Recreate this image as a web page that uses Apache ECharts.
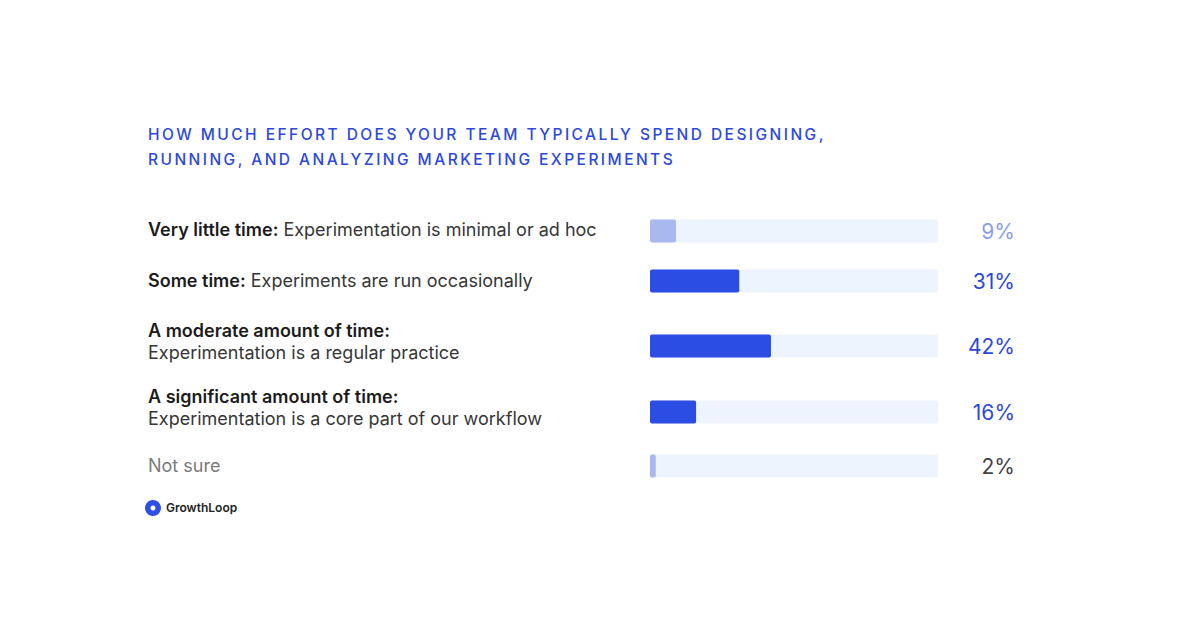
<!DOCTYPE html>
<html>
<head>
<meta charset="utf-8">
<script src="https://cdn.jsdelivr.net/npm/echarts@6/dist/echarts.min.js"></script>
<style>
  html, body { margin: 0; padding: 0; background: #ffffff; }
  #chart { width: 1200px; height: 630px; }
  #chart svg text[fill="#2c48df"] { letter-spacing: 2.45px; }
</style>
</head>
<body>
<div id="chart"></div>
<script>
// ---- data ----
const titleText = 'HOW MUCH EFFORT DOES YOUR TEAM TYPICALLY SPEND DESIGNING,\nRUNNING, AND ANALYZING MARKETING EXPERIMENTS';
const categories = [
  'Very little time: Experimentation is minimal or ad hoc',
  'Some time: Experiments are run occasionally',
  'A moderate amount of time:\nExperimentation is a regular practice',
  'A significant amount of time:\nExperimentation is a core part of our workflow',
  'Not sure'
];
const values = [9, 31, 42, 16, 2];
const valueLabels = ['9%', '31%', '42%', '16%', '2%'];
const brandName = 'GrowthLoop';

// ---- layout / style ----
const rowCenters = [231, 281, 346, 412, 466];
const barH = 23;
const barColors = ['#a9b8ef', '#2b4de3', '#2b4de3', '#2b4de3', '#a9b8ef'];
const pctColors = ['#8b9de6', '#2d47dc', '#2d47dc', '#2d47dc', '#444444'];
const labelLift = [4, 2, 10, 10, 2];

function fmtLabel(v) {
  const i = v.indexOf(':');
  if (i < 0) return '{n|' + v + '}';
  const head = v.slice(0, i + 1);
  let rest = v.slice(i + 1);
  if (rest.charAt(0) === '\n') return '{b|' + head + '}\n{r|' + rest.slice(1) + '}';
  return '{b|' + head + '}{r|' + rest + '}';
}

const grids = [], xAxes = [], yAxes = [], series = [];
categories.forEach((c, i) => {
  grids.push({ left: 650, width: 288, top: rowCenters[i] - barH / 2, height: barH, containLabel: false });
  xAxes.push({ type: 'value', gridIndex: i, min: 0, max: 100, show: false });
  yAxes.push({
    type: 'category', gridIndex: i, data: [c], position: 'left',
    axisLine: { show: false }, axisTick: { show: false }, splitLine: { show: false },
    axisLabel: {
      margin: 502, align: 'left', verticalAlign: 'middle',
      padding: [0, 0, labelLift[i], 0],
      formatter: fmtLabel,
      rich: {
        b: { fontFamily: 'Inter', fontSize: 18, fontWeight: 600, color: '#1c1c1c', lineHeight: 22 },
        r: { fontFamily: 'Inter', fontSize: 18, fontWeight: 400, color: '#363636', lineHeight: 22 },
        n: { fontFamily: 'Inter', fontSize: 18, fontWeight: 400, color: '#7a7a7a', lineHeight: 22 }
      }
    }
  });
  yAxes.push({
    type: 'category', gridIndex: i, data: [valueLabels[i]], position: 'right',
    axisLine: { show: false }, axisTick: { show: false }, splitLine: { show: false },
    axisLabel: {
      margin: 77, align: 'right', verticalAlign: 'middle',
      fontFamily: 'Inter', fontSize: 21, fontWeight: 400, color: pctColors[i]
    }
  });
  series.push({
    type: 'bar', xAxisIndex: i, yAxisIndex: 2 * i,
    data: [values[i]], barWidth: barH,
    showBackground: true,
    backgroundStyle: { color: '#eef4fd', borderRadius: 2 },
    itemStyle: { color: barColors[i], borderRadius: 2 },
    silent: true, animation: false
  });
});

const chart = echarts.init(document.getElementById('chart'), null, { renderer: 'svg' });
chart.setOption({
  backgroundColor: '#ffffff',
  animation: false,
  title: {
    text: titleText, left: 143, top: 117,
    textStyle: { fontFamily: 'Inter', fontSize: 15.5, fontWeight: 500, color: '#2c48df', lineHeight: 25 }
  },
  grid: grids, xAxis: xAxes, yAxis: yAxes, series: series,
  graphic: [
    { type: 'circle', shape: { cx: 153, cy: 508, r: 8 }, style: { fill: '#2f4ee6' } },
    { type: 'circle', shape: { cx: 153, cy: 508, r: 2.5 }, style: { fill: '#ffffff' } },
    { type: 'text', left: 166, top: 501, style: { text: brandName, fontFamily: 'Inter', fontSize: 12, fontWeight: 600, fill: '#222222' } }
  ]
});
</script>
</body>
</html>
